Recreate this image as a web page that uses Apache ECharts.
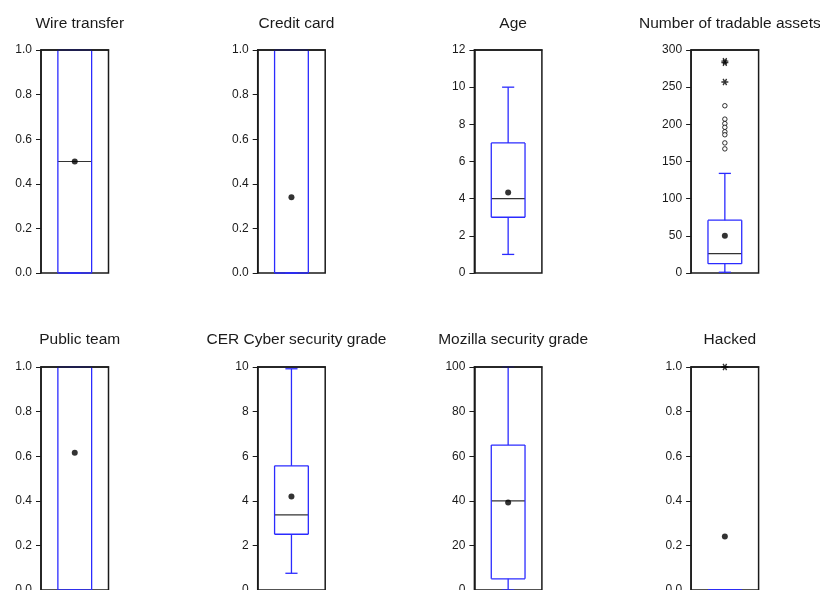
<!DOCTYPE html>
<html>
<head>
<meta charset="utf-8">
<script src="https://cdn.jsdelivr.net/npm/echarts@6/dist/echarts.min.js"></script>
<style>
html,body{margin:0;padding:0;background:#fff;}
#chart{width:820px;height:590px;}
</style>
</head>
<body>
<div id="chart"></div>
<script>
// ---- data ----
const titles = ['Wire transfer', 'Credit card', 'Age', 'Number of tradable assets',
                'Public team', 'CER Cyber security grade', 'Mozilla security grade', 'Hacked'];
// [lower whisker, Q1, median, Q3, upper whisker]
const boxStats = [
  [0, 0, 0.5, 1, 1],
  [0, 0, 0, 1, 1],
  [1, 3, 4, 7, 10],
  [1, 12.5, 26, 71, 134],
  [0, 0, 1, 1, 1],
  [0.75, 2.5, 3.37, 5.57, 9.92],
  [0, 5, 40, 65, 100],
  [0, 0, 0, 0, 0]
];
const means = [0.5, 0.34, 4.33, 50, 0.615, 4.19, 39.2, 0.24];
const mildOutliers = [[], [], [], [225, 207, 201, 196, 190, 186, 175, 167], [], [], [], []];
const extremeOutliers = [[], [], [], [257, 283, 285], [], [], [], [1]];
const axisMax = [1, 1, 12, 300, 1, 10, 100, 1];
const axisStep = [0.2, 0.2, 2, 50, 0.2, 2, 20, 0.2];
const decimals = [1, 1, 0, 0, 1, 0, 0, 1];

// ---- layout / style ----
const BLUE = '#2b2bff';
const INK = '#1a1a1a';
const FONT = 'Liberation Sans, Arial, sans-serif';
const asterisk = 'path://M3.366,0.17L8.366,8.83L6.634,9.83L1.634,1.17Z' +
  'M8.366,1.17L3.366,9.83L1.634,8.83L6.634,0.17Z' +
  'M0,4L10,4L10,6L0,6Z';

const grids = [], xAxes = [], yAxes = [], series = [], titleList = [];
titles.forEach((t, i) => {
  const c = i % 4, r = Math.floor(i / 4);
  const left = 41 + c * 216.7;
  const top = r === 0 ? 50 : 367;
  grids.push({left: left, top: top, width: 67.5, height: 223, show: true,
    outerBoundsMode: 'none', containLabel: false,
    borderColor: INK, borderWidth: 1.5, backgroundColor: 'transparent'});
  titleList.push({text: t, left: left + 33.75, top: r === 0 ? 11 : 327, textAlign: 'center',
    textStyle: {fontFamily: FONT, fontSize: 15.5, fontWeight: 'normal', color: INK}});
  // bottom category axis (invisible) used by the series
  xAxes.push({gridIndex: i, type: 'category', data: [t], boundaryGap: true, position: 'bottom',
    axisLine: {show: false}, axisTick: {show: false}, axisLabel: {show: false}, splitLine: {show: false}});
  // top axis only to draw the top frame above the box
  xAxes.push({gridIndex: i, type: 'category', data: [t], boundaryGap: true, position: 'top', z: 6,
    axisLine: {show: true, lineStyle: {color: INK, width: 1.5}},
    axisTick: {show: false}, axisLabel: {show: false}, splitLine: {show: false}});
  yAxes.push({gridIndex: i, type: 'value', min: 0, max: axisMax[i], interval: axisStep[i],
    axisLine: {show: true, lineStyle: {color: INK, width: 1.5}},
    axisTick: {show: true, length: 5, lineStyle: {color: INK, width: 1}},
    axisLabel: {fontFamily: FONT, fontSize: 12, color: INK, margin: 9,
      formatter: v => v.toFixed(decimals[i])},
    splitLine: {show: false}});
  series.push({
    type: 'custom', xAxisIndex: 2 * i, yAxisIndex: i, clip: false, z: 2,
    data: [[0].concat(boxStats[i])],
    renderItem: function (params, api) {
      const lo = api.coord([0, api.value(1)]);
      const q1 = api.coord([0, api.value(2)]);
      const med = api.coord([0, api.value(3)]);
      const q3 = api.coord([0, api.value(4)]);
      const hi = api.coord([0, api.value(5)]);
      const band = api.size([1, 0])[0];
      const hw = band * 0.25, cw = band * 0.09;
      const cx = lo[0];
      const ls = {stroke: BLUE, lineWidth: 1.3, fill: null};
      const ln = (x1, y1, x2, y2, s) => ({type: 'line', shape: {x1, y1, x2, y2}, style: s});
      return {type: 'group', children: [
        ln(cx - hw, med[1], cx + hw, med[1], {stroke: '#333', lineWidth: 1.2}),
        ln(cx, q3[1], cx, hi[1], ls),
        ln(cx, q1[1], cx, lo[1], ls),
        ln(cx - cw, hi[1], cx + cw, hi[1], ls),
        ln(cx - cw, lo[1], cx + cw, lo[1], ls),
        ln(cx - hw, q3[1], cx + hw, q3[1], ls),
        ln(cx - hw, q1[1], cx + hw, q1[1], ls),
        ln(cx - hw, q3[1], cx - hw, q1[1], ls),
        ln(cx + hw, q3[1], cx + hw, q1[1], ls)
      ]};
    }
  });
  series.push({type: 'scatter', xAxisIndex: 2 * i, yAxisIndex: i, symbol: 'circle', symbolSize: 6,
    itemStyle: {color: '#000'}, data: [[0, means[i]]], z: 7});
  if (mildOutliers[i].length) {
    series.push({type: 'scatter', xAxisIndex: 2 * i, yAxisIndex: i, symbol: 'circle', symbolSize: 4.5,
      itemStyle: {color: '#fff', borderColor: '#000', borderWidth: 1},
      data: mildOutliers[i].map(v => [0, v]), z: 7});
  }
  if (extremeOutliers[i].length) {
    series.push({type: 'scatter', xAxisIndex: 2 * i, yAxisIndex: i, symbol: asterisk, symbolSize: 7,
      itemStyle: {color: '#000'}, data: extremeOutliers[i].map(v => [0, v]), z: 7});
  }
});

const chart = echarts.init(document.getElementById('chart'), null, {renderer: 'canvas'});
chart.setOption({
  backgroundColor: '#fff',
  animation: false,
  title: titleList,
  grid: grids,
  xAxis: xAxes,
  yAxis: yAxes,
  series: series
});
</script>
</body>
</html>
